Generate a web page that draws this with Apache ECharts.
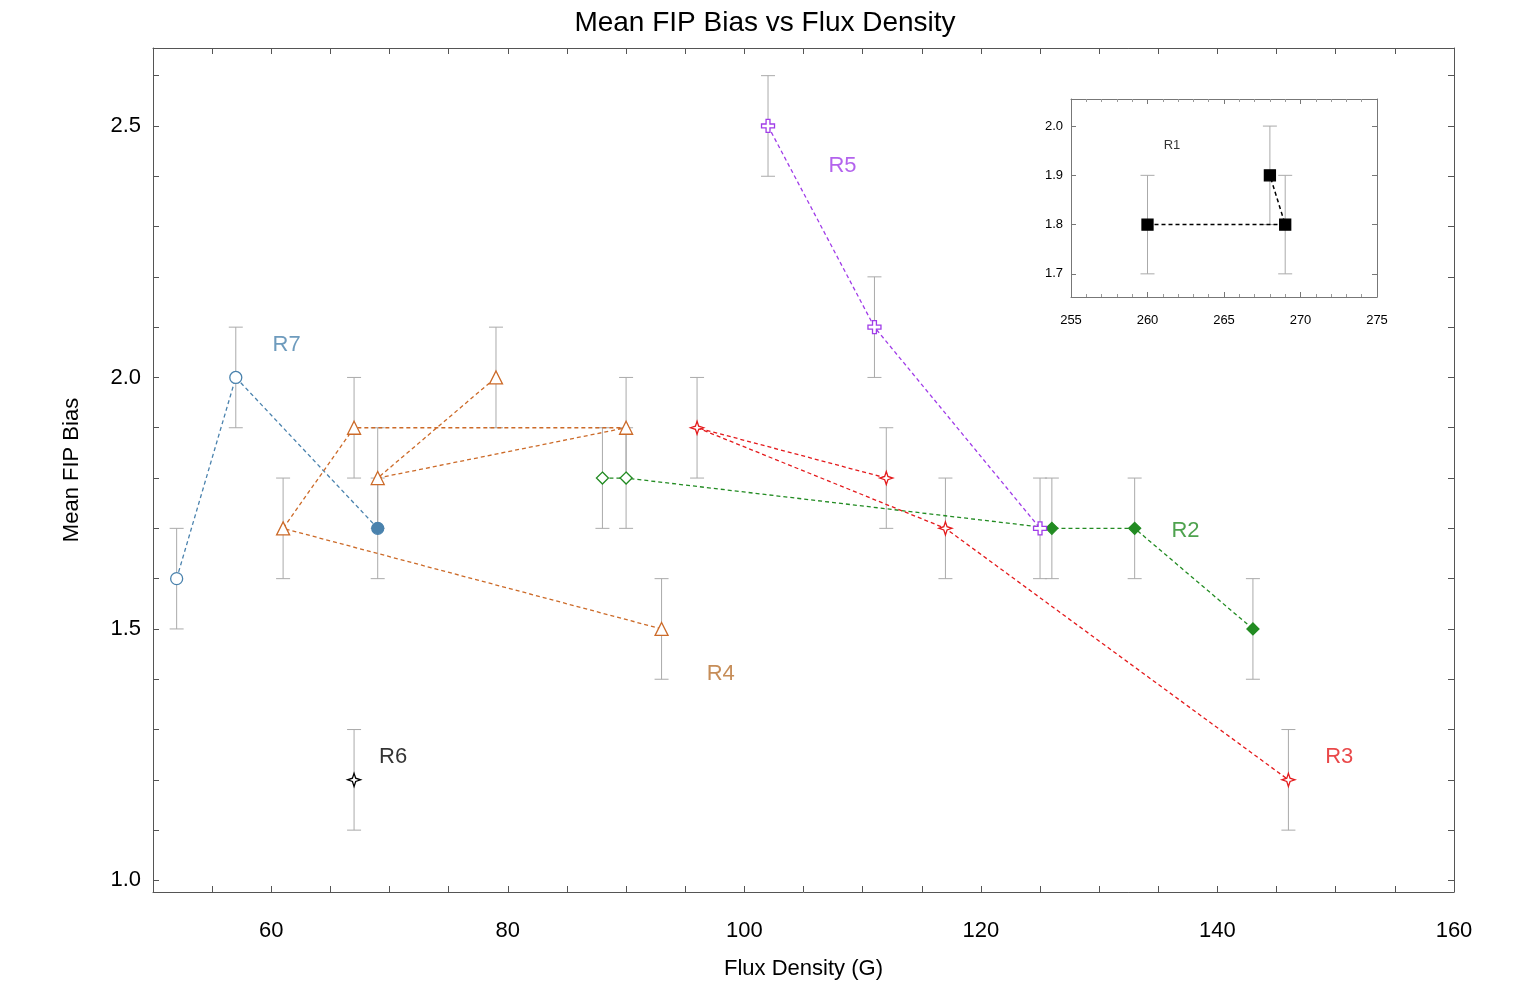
<!DOCTYPE html>
<html><head><meta charset="utf-8">
<script src="https://cdn.jsdelivr.net/npm/echarts@6/dist/echarts.min.js"></script>
<style>html,body{margin:0;background:#fff}#c{width:1530px;height:992px}</style>
</head><body><div id="c"></div>
<script>
// data: [flux, fipBias], error is +/- 0.1 for every point
const r7 = [[52, 1.6], [57, 2.0], [69, 1.7]];
const r4 = [[93, 1.5], [61, 1.7], [67, 1.9], [90, 1.9], [69, 1.8], [79, 2.0]];
const r2 = [[88, 1.8], [90, 1.8], [126, 1.7], [133, 1.7], [143, 1.5]];
const r3 = [[112, 1.8], [96, 1.9], [117, 1.7], [146, 1.2]];
const r5 = [[102, 2.5], [111, 2.1], [125, 1.7]];
const r6 = [[67, 1.2]];
const r1 = [[260, 1.8], [269, 1.8], [268, 1.9]];
const errSize = 0.1;
const yTicks = [1.0, 1.1, 1.2, 1.3, 1.4, 1.5, 1.6, 1.7, 1.8, 1.9, 2.0, 2.1, 2.2, 2.3, 2.4, 2.5, 2.6];
const yLabels = [1.0, 1.5, 2.0, 2.5];
const xTicks = [55, 60, 65, 70, 75, 80, 85, 90, 95, 100, 105, 110, 115, 120, 125, 130, 135, 140, 145, 150, 155];
const xLabels = [60, 80, 100, 120, 140, 160];

const star4 = 'path://M0,-10 L2.5,-2.5 L10,0 L2.5,2.5 L0,10 L-2.5,2.5 L-10,0 L-2.5,-2.5 Z';
const plus = 'path://M-3,-10 L3,-10 L3,-3 L10,-3 L10,3 L3,3 L3,10 L-3,10 L-3,3 L-10,3 L-10,-3 L-3,-3 Z';
const font = 'Liberation Sans, Helvetica, Arial, sans-serif';

function errBars(data, xi, yi) {
  return {
    type: 'custom', xAxisIndex: xi, yAxisIndex: yi, z: 1, silent: true,
    data: data.map(d => [d[0], d[1] - errSize, d[1] + errSize]),
    renderItem: (params, api) => {
      const lo = api.coord([api.value(0), api.value(1)]);
      const hi = api.coord([api.value(0), api.value(2)]);
      const w = 7;
      const st = { stroke: '#aaa', lineWidth: 1 };
      return { type: 'group', children: [
        { type: 'line', shape: { x1: lo[0], y1: lo[1], x2: hi[0], y2: hi[1] }, style: st },
        { type: 'line', shape: { x1: lo[0] - w, y1: lo[1], x2: lo[0] + w, y2: lo[1] }, style: st },
        { type: 'line', shape: { x1: hi[0] - w, y1: hi[1], x2: hi[0] + w, y2: hi[1] }, style: st }
      ]};
    }
  };
}

function line(data, color, symbol, size, filled, xi, yi) {
  return {
    type: 'line', xAxisIndex: xi || 0, yAxisIndex: yi || 0, z: 3,
    data: data.map((d, i) => ({
      value: d,
      itemStyle: { color: (filled === true || (filled && filled(i))) ? color : '#fff', borderColor: color, borderWidth: 1.3 }
    })),
    symbol: symbol, symbolSize: size, showSymbol: true,
    lineStyle: { color: color, type: [4, 3], width: 1.3 },
    animation: false
  };
}

function label(text, x, y, color, size, xi, yi) {
  return {
    type: 'scatter', xAxisIndex: xi || 0, yAxisIndex: yi || 0, symbolSize: 0, silent: true,
    data: [[x, y]],
    label: { show: true, formatter: text, color: color, fontSize: size || 22, fontFamily: font, position: 'inside' }
  };
}

const tickStyle = { show: true, inside: true, length: 6, lineStyle: { color: '#555' } };

const chart = echarts.init(document.getElementById('c'));
chart.setOption({
  backgroundColor: '#fff',
  animation: false,
  title: { text: 'Mean FIP Bias vs Flux Density', left: 'center', top: 4,
    textStyle: { fontFamily: font, fontSize: 28, fontWeight: 'normal', color: '#000' } },
  grid: [
    { left: 153, right: 76, top: 48, bottom: 100, show: false },
    { left: 1071, top: 99, width: 306, height: 198, show: false }
  ],
  xAxis: [
    { gridIndex: 0, type: 'value', min: 50, max: 160, name: 'Flux Density (G)', nameLocation: 'middle', nameGap: 66,
      nameTextStyle: { fontFamily: font, fontSize: 22, color: '#000' },
      axisLine: { lineStyle: { color: '#555' } }, splitLine: { show: false },
      axisTick: Object.assign({ customValues: xTicks }, tickStyle),
      axisLabel: { customValues: xLabels, fontFamily: font, fontSize: 22, color: '#000', margin: 28 } },
    { gridIndex: 0, type: 'value', min: 50, max: 160, position: 'top',
      axisLine: { lineStyle: { color: '#555' } }, splitLine: { show: false },
      axisTick: Object.assign({ customValues: xTicks }, tickStyle), axisLabel: { show: false } },
    { gridIndex: 1, type: 'value', min: 255, max: 275, interval: 5,
      axisLine: { lineStyle: { color: '#777' } }, splitLine: { show: false },
      axisTick: { inside: true, length: 5, lineStyle: { color: '#777' } },
      minorTick: { show: true, splitNumber: 5, length: 3, lineStyle: { color: '#999' } },
      axisLabel: { fontFamily: font, fontSize: 13, color: '#000', margin: 17 } },
    { gridIndex: 1, type: 'value', min: 255, max: 275, interval: 5, position: 'top',
      axisLine: { lineStyle: { color: '#777' } }, splitLine: { show: false },
      axisTick: { inside: true, length: 5, lineStyle: { color: '#777' } },
      minorTick: { show: true, splitNumber: 5, length: 3, lineStyle: { color: '#999' } },
      axisLabel: { show: false } }
  ],
  yAxis: [
    { gridIndex: 0, type: 'value', min: 0.977, max: 2.655, name: 'Mean FIP Bias', nameLocation: 'middle', nameGap: 70,
      nameTextStyle: { fontFamily: font, fontSize: 22, color: '#000' },
      axisLine: { show: true, lineStyle: { color: '#555' } }, splitLine: { show: false },
      axisTick: Object.assign({ customValues: yTicks }, tickStyle),
      axisLabel: { customValues: yLabels, fontFamily: font, fontSize: 22, color: '#000', margin: 12,
        formatter: v => v.toFixed(1) } },
    { gridIndex: 0, type: 'value', min: 0.977, max: 2.655, position: 'right',
      axisLine: { show: true, lineStyle: { color: '#555' } }, splitLine: { show: false },
      axisTick: Object.assign({ customValues: yTicks }, tickStyle), axisLabel: { show: false } },
    { gridIndex: 1, type: 'value', min: 1.653, max: 2.055,
      axisLine: { show: true, lineStyle: { color: '#777' } }, splitLine: { show: false },
      axisTick: { inside: true, length: 5, lineStyle: { color: '#777' }, customValues: [1.7, 1.8, 1.9, 2.0] },
      axisLabel: { fontFamily: font, fontSize: 13, color: '#000', formatter: v => v.toFixed(1),
        customValues: [1.7, 1.8, 1.9, 2.0] } },
    { gridIndex: 1, type: 'value', min: 1.653, max: 2.055, position: 'right',
      axisLine: { show: true, lineStyle: { color: '#777' } }, splitLine: { show: false },
      axisTick: { inside: true, length: 5, lineStyle: { color: '#777' }, customValues: [1.7, 1.8, 1.9, 2.0] },
      axisLabel: { show: false } }
  ],
  series: [
    errBars(r7, 0, 0), errBars(r4, 0, 0), errBars(r2, 0, 0), errBars(r3, 0, 0),
    errBars(r5, 0, 0), errBars(r6, 0, 0), errBars(r1, 2, 2),
    line(r7, '#4a82ad', 'circle', 12, i => i === 2),
    line(r4, '#cc6a28', 'triangle', 13, false),
    line(r2, '#228b22', 'diamond', 12, i => i >= 2),
    line(r3, '#e41a1c', star4, 13, false),
    line(r5, '#a03ce8', plus, 13, false),
    line(r6, '#000', star4, 13, false),
    Object.assign(line(r1, '#000', 'rect', 11, true, 2, 2), { lineStyle: { color: '#000', type: [4, 3], width: 1.5 } }),
    label('R7', 61.3, 2.065, '#4a82ad'),
    label('R4', 98, 1.41, '#b8702e'),
    label('R5', 108.3, 2.42, '#a03ce8'),
    label('R2', 137.3, 1.695, '#228b22'),
    label('R3', 150.3, 1.245, '#e41a1c'),
    label('R6', 70.3, 1.245, '#000'),
    label('R1', 261.6, 1.96, '#000', 13, 2, 2)
  ]
});
</script></body></html>
